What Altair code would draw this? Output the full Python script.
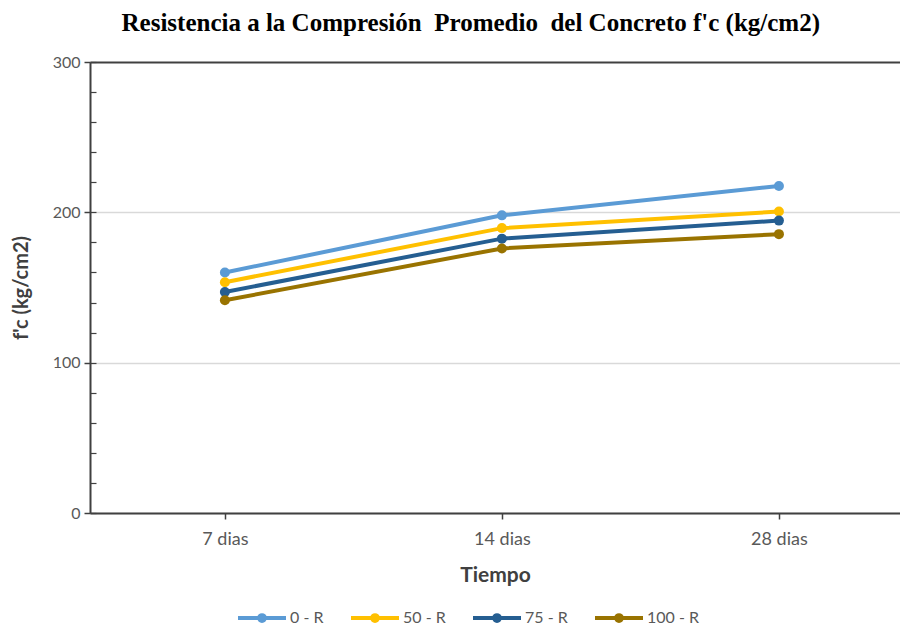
import altair as alt
import pandas as pd

dias = ["7 dias", "14 dias", "28 dias"]
series = ["0 - R", "50 - R", "75 - R", "100 - R"]
r0 = [160.0, 198.0, 217.5]
r50 = [153.5, 189.5, 200.5]
r75 = [147.0, 182.5, 194.5]
r100 = [141.5, 176.0, 185.5]
colors = ["#5B9BD5", "#FFC000", "#255E91", "#997300"]
y_major = [0, 100, 200, 300]
y_minor = list(range(0, 301, 20))
titulo = "Resistencia a la Compresión\u00a0 Promedio\u00a0 del Concreto f'c (kg/cm2)"

rows = []
for name, vals in zip(series, [r0, r50, r75, r100]):
    for d, v in zip(dias, vals):
        rows.append({"dia": d, "serie": name, "valor": v})
df = pd.DataFrame(rows)

FONT = "Lato"
AX = "#404040"
LBL = "#595959"

xscale = alt.Scale(type="point", domain=dias, padding=0.462, align=0.527)
yscale = alt.Scale(domain=[0, 300], nice=False, zero=True)
cscale = alt.Scale(domain=series, range=colors)

x_main = alt.Axis(orient="bottom", title="Tiempo", labelFont=FONT, labelFontSize=18,
                  labelColor=LBL, titleFont=FONT, titleFontSize=21, titleFontWeight="bold",
                  titleColor=AX, domainColor=AX, domainWidth=2, tickColor=AX, tickWidth=1.5,
                  tickSize=6, labelPadding=11, titlePadding=16, grid=False, labelAngle=0)
y_main = alt.Axis(orient="left", values=y_major, title="f'c (kg/cm2)", labelFont=FONT,
                  labelFontSize=16, labelColor=LBL, titleFont=FONT, titleFontSize=20,
                  titleFontWeight="bold", titleColor=AX, domainColor=AX, domainWidth=2,
                  tickColor=AX, tickWidth=1.5, tickSize=6, labelPadding=4, titlePadding=21,
                  grid=True,
                  gridColor={"condition": {"test": "datum.value === 300", "value": AX}, "value": "#D9D9D9"},
                  gridWidth={"condition": {"test": "datum.value === 300", "value": 2}, "value": 1.5})
x_top = alt.Axis(orient="top", title=titulo, titleFont="Liberation Serif", titleFontSize=25,
                 titleFontWeight="bold", titleColor="black", titleX=31, titleAlign="left",
                 titleBaseline="alphabetic", titlePadding=32, labels=False, ticks=False,
                 domain=False, grid=False)
y_minor_ax = alt.Axis(orient="left", values=y_minor, offset=-6, tickSize=6, tickColor=AX,
                      tickWidth=1.2, labels=False, domain=False, grid=False, title=None)

legend_symbol = "M-1,0L1,0M-0.12,0a0.12,0.12 0 1,0 0.24,0a0.12,0.12 0 1,0 -0.24,0"

lines = alt.Chart(df).mark_line(strokeWidth=4).encode(
    x=alt.X("dia:N", sort=dias, scale=xscale, axis=x_main),
    y=alt.Y("valor:Q", scale=yscale, axis=y_main),
    color=alt.Color("serie:N", sort=series, scale=cscale,
                    legend=alt.Legend(orient="none", legendX=146, legendY=530,
                                      direction="horizontal", title=None,
                                      symbolType=legend_symbol, symbolSize=2304,
                                      symbolStrokeWidth=4, labelFont=FONT,
                                      labelFontSize=16, labelColor=LBL, columnPadding=19,
                                      labelOffset=2)),
    detail="serie:N",
)
points = alt.Chart(df).mark_point(filled=True, size=100, opacity=1).encode(
    x=alt.X("dia:N", sort=dias, scale=xscale, axis=x_top),
    y=alt.Y("valor:Q", scale=yscale, axis=y_minor_ax),
    color=alt.Color("serie:N", sort=series, scale=cscale, legend=None),
)

chart = alt.layer(lines, points).resolve_axis(x="independent", y="independent").properties(
    width=810, height=451,
    autosize=alt.AutoSizeParams(type="none"),
    padding={"left": 82, "top": 54, "right": 0, "bottom": 113},
).configure_view(stroke=None).configure(background="white")

chart.save("out.html", embed_options={"renderer": "svg", "actions": False})
